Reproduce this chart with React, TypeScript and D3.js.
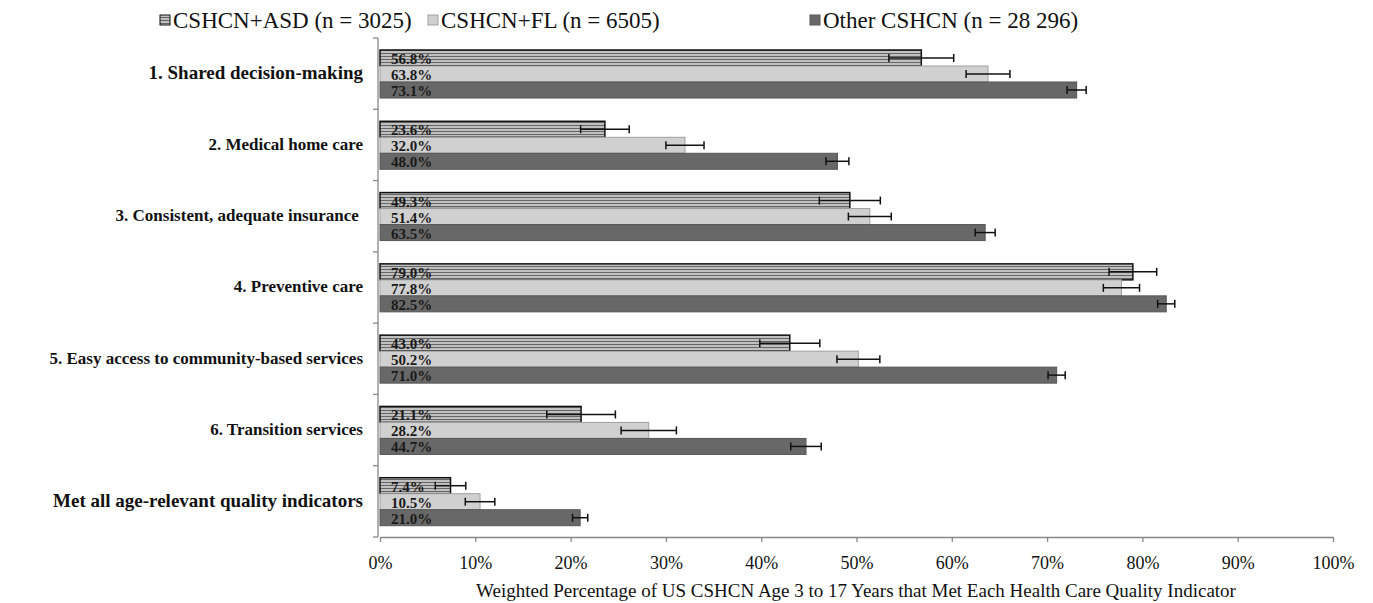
import React, { useEffect, useRef } from "react";
import * as d3 from "d3";

const categories = [
  "1. Shared decision-making",
  "2. Medical home care",
  "3. Consistent, adequate insurance ",
  "4. Preventive care",
  "5. Easy access to community-based services",
  "6. Transition services",
  "Met all age-relevant quality indicators",
];

const seriesNames = [
  "CSHCN+ASD (n = 3025)",
  "CSHCN+FL (n = 6505)",
  "Other CSHCN (n = 28 296)",
];

const asdValues = [56.8, 23.6, 49.3, 79.0, 43.0, 21.1, 7.4];
const flValues = [63.8, 32.0, 51.4, 77.8, 50.2, 28.2, 10.5];
const otherValues = [73.1, 48.0, 63.5, 82.5, 71.0, 44.7, 21.0];

// half-width of the confidence intervals
const asdErr = [3.4, 2.55, 3.2, 2.5, 3.15, 3.6, 1.6];
const flErr = [2.3, 2.0, 2.25, 1.9, 2.25, 2.9, 1.55];
const otherErr = [1.0, 1.2, 1.05, 0.9, 0.9, 1.6, 0.8];

const xTicks = [0, 10, 20, 30, 40, 50, 60, 70, 80, 90, 100];

const App = () => {
  const svgRef = useRef<SVGSVGElement>(null);

  useEffect(() => {
    document.body.style.margin = "0";
    const width = 1373;
    const height = 603;
    const margin = { top: 38, right: 40, bottom: 66, left: 380 };

    const svg = d3.select(svgRef.current);
    svg.selectAll("*").remove();
    svg.attr("width", width).attr("height", height);

    const font = "Liberation Serif, serif";

    // pattern for the ASD bars
    const defs = svg.append("defs");
    const pat = defs
      .append("pattern")
      .attr("id", "hatch")
      .attr("patternUnits", "userSpaceOnUse")
      .attr("width", 8)
      .attr("height", 3);
    pat.append("rect").attr("width", 8).attr("height", 3).attr("fill", "#c0c0c0");
    pat.append("rect").attr("y", 2).attr("width", 8).attr("height", 1).attr("fill", "#666");

    const series = [
      { name: seriesNames[0], values: asdValues, err: asdErr, fill: "url(#hatch)", stroke: "#111", sw: 1.5 },
      { name: seriesNames[1], values: flValues, err: flErr, fill: "#d0d0d0", stroke: "#a0a0a0", sw: 1 },
      { name: seriesNames[2], values: otherValues, err: otherErr, fill: "#686868", stroke: "#555", sw: 1 },
    ];

    const x = d3
      .scaleLinear()
      .domain([0, 100])
      .range([margin.left, width - margin.right]);

    const y = d3
      .scaleBand()
      .domain(categories)
      .range([margin.top, height - margin.bottom]);

    const yInner = d3
      .scaleBand()
      .domain(seriesNames)
      .range([12, 60]);

    // axes
    const xAxis = svg
      .append("g")
      .attr("transform", `translate(0,${height - margin.bottom})`)
      .call(
        d3
          .axisBottom(x)
          .tickValues(xTicks)
          .tickFormat((d) => `${d}%`)
          .tickSize(5)
          .tickSizeOuter(0)
      );
    xAxis.attr("font-family", font);
    xAxis.select(".domain").attr("stroke", "#888").attr("stroke-width", 1.3);
    xAxis.selectAll(".tick line").attr("stroke", "#888").attr("stroke-width", 1.3);
    xAxis
      .selectAll(".tick text")
      .attr("font-family", font)
      .attr("font-size", 18)
      .attr("fill", "#111")
      .attr("y", 15)
      .attr("dy", "0.95em");

    const yAxisG = svg.append("g").attr("transform", `translate(${margin.left - 2},0)`);
    yAxisG
      .append("line")
      .attr("y1", margin.top)
      .attr("y2", height - margin.bottom)
      .attr("stroke", "#888")
      .attr("stroke-width", 1.3);
    const bounds = categories.map((c) => y(c)!).concat([height - margin.bottom]);
    yAxisG
      .selectAll("line.tk")
      .data(bounds)
      .enter()
      .append("line")
      .attr("class", "tk")
      .attr("x1", -5)
      .attr("x2", 0)
      .attr("y1", (d) => d)
      .attr("y2", (d) => d)
      .attr("stroke", "#888")
      .attr("stroke-width", 1.3);

    // category labels (first and last are a bit larger in the original)
    const labelSize = (i: number) => (i === 0 || i === categories.length - 1 ? 19 : 17);
    svg
      .append("g")
      .selectAll("text")
      .data(categories)
      .enter()
      .append("text")
      .attr("x", margin.left - 17)
      .attr("y", (d) => y(d)! + y.bandwidth() / 2 + 1)
      .attr("text-anchor", "end")
      .attr("dominant-baseline", "middle")
      .attr("font-family", font)
      .attr("font-weight", "bold")
      .attr("font-size", (_, i) => labelSize(i))
      .attr("fill", "#111")
      .style("white-space", "pre")
      .text((d) => d);

    // bars
    series.forEach((s) => {
      const g = svg.append("g");
      g.selectAll("rect")
        .data(s.values)
        .enter()
        .append("rect")
        .attr("x", x(0))
        .attr("y", (_, i) => y(categories[i])! + yInner(s.name)!)
        .attr("width", (d) => x(d) - x(0))
        .attr("height", yInner.bandwidth())
        .attr("fill", s.fill)
        .attr("stroke", s.stroke)
        .attr("stroke-width", s.sw);

      g.selectAll("text")
        .data(s.values)
        .enter()
        .append("text")
        .attr("x", x(0) + 11)
        .attr("y", (_, i) => y(categories[i])! + yInner(s.name)! + yInner.bandwidth() - 2)
        .attr("font-family", font)
        .attr("font-weight", "bold")
        .attr("font-size", 15)
        .attr("fill", "#1a1a1a")
        .text((d) => `${d.toFixed(1)}%`);

      // error bars
      const eb = g.append("g").attr("stroke", "#111").attr("stroke-width", 1.5);
      s.values.forEach((v, i) => {
        const cy = y(categories[i])! + yInner(s.name)! + yInner.bandwidth() / 2;
        const lo = x(v - s.err[i]);
        const hi = x(v + s.err[i]);
        eb.append("line").attr("x1", lo).attr("x2", hi).attr("y1", cy).attr("y2", cy);
        eb.append("line").attr("x1", lo).attr("x2", lo).attr("y1", cy - 4).attr("y2", cy + 4);
        eb.append("line").attr("x1", hi).attr("x2", hi).attr("y1", cy - 4).attr("y2", cy + 4);
      });
    });

    // legend
    const legendX = [160, 428, 810];
    const legend = svg.append("g");
    series.forEach((s, i) => {
      legend
        .append("rect")
        .attr("x", legendX[i])
        .attr("y", 15)
        .attr("width", 10)
        .attr("height", 10)
        .attr("fill", s.fill)
        .attr("stroke", i === 0 ? "#111" : s.stroke)
        .attr("stroke-width", 1);
      legend
        .append("text")
        .attr("x", legendX[i] + 13)
        .attr("y", 28)
        .attr("font-family", font)
        .attr("font-size", 23)
        .attr("fill", "#111")
        .text(s.name);
    });

    // axis title
    svg
      .append("text")
      .attr("x", 856)
      .attr("y", 597)
      .attr("text-anchor", "middle")
      .attr("font-family", font)
      .attr("font-size", 19)
      .attr("fill", "#111")
      .text("Weighted Percentage of US CSHCN Age 3 to 17 Years that Met Each Health Care Quality Indicator");
  }, []);

  return <svg ref={svgRef}></svg>;
};

export default App;
